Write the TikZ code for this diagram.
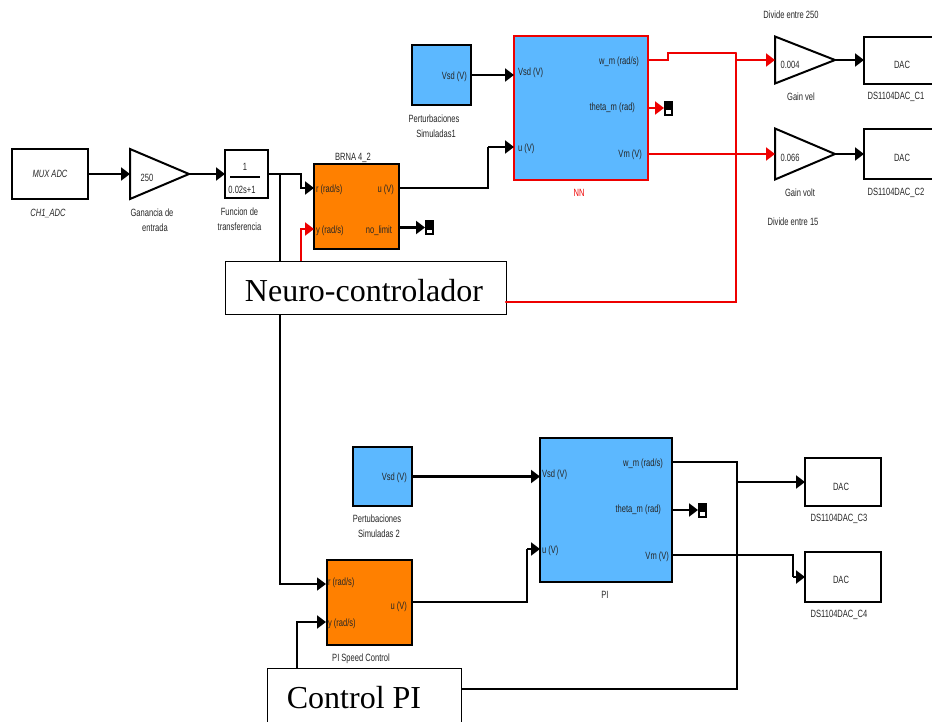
\documentclass[tikz,border=0pt]{standalone}
\usepackage{fontspec}
\setmainfont{Liberation Serif}
\newfontfamily\simfont[FakeStretch=0.72]{Liberation Sans}
\usetikzlibrary{shapes.geometric,positioning,arrows.meta}
\definecolor{simblue}{HTML}{5CB8FF}
\definecolor{simorange}{HTML}{FF8000}
\definecolor{simred}{HTML}{EE0000}

\begin{document}
\begin{tikzpicture}
        [x=1pt, y=-1pt,
        block/.style={draw, line width=2pt, inner sep=0pt, outer sep=0pt, font=\simfont\fontsize{10.5}{15}\selectfont, text=black!85},
        amp/.style={draw, line width=2pt, isosceles triangle, isosceles triangle stretches, inner sep=0pt, outer sep=0pt},
        tag/.style={inner sep=0pt, outer sep=0pt, align=center, font=\simfont\fontsize{10.5}{15}\selectfont, text=black!85},
        wide/.style={draw, line width=0.8pt, fill=white, inner sep=0pt, outer sep=0pt, font=\fontsize{32}{36}\selectfont},
        probe/.style={draw, fill=black, line width=1pt, minimum width=8pt, minimum height=14pt, inner sep=0pt, outer sep=0pt},
        wire/.style={line width=2.2pt, -{Triangle[length=9pt,width=13pt]}},
        lead/.style={line width=2.2pt}]

        \clip (0,0) rectangle (932,721);

        % top row
        \node [block, minimum width=76pt, minimum height=50pt] (mux) at (50,174) {\itshape MUX ADC};
        \node [amp, minimum height=59pt, minimum width=50pt]   (gain) [right=42pt of mux] {};
        \node [block, minimum width=43pt, minimum height=48pt] (tf) [right=36pt of gain] {};
        \node [block, fill=simorange, minimum size=85pt]       (brna) [right=46pt of tf, yshift=-32.5pt] {};
        \node [block, fill=simblue, minimum width=59pt, minimum height=60pt] (vsda) at (441.5,75) {};
        \node [block, draw=simred, fill=simblue, minimum width=134pt, minimum height=144pt] (nn) at (581,108) {};
        \node [amp, minimum height=60pt, minimum width=47pt] (gvel) [right=127pt of nn, yshift=48pt] {};
        \node [amp, minimum height=60pt, minimum width=51pt] (gvolt) [right=127pt of nn, yshift=-46pt] {};
        \node [block, minimum width=76pt, minimum height=47pt] (daca) [right=29pt of gvel] {};
        \node [block, minimum width=76pt, minimum height=50pt] (dacb) [right=29pt of gvolt] {};
        \node [wide, minimum width=281pt, minimum height=53pt] (neuro) at (365.5,287.5) {\rule{0pt}{28pt}Neuro-controlador\rule{3pt}{0pt}};

        % bottom row
        \node [block, fill=simblue, minimum width=59pt, minimum height=59pt] (vsdb) at (382.5,476.5) {};
        \node [block, fill=simblue, minimum width=132pt, minimum height=144pt] (pi) [right=128pt of vsdb, yshift=-33.5pt] {};
        \node [block, fill=simorange, minimum size=85pt] (pisc) [below=54pt of vsdb, xshift=-13.5pt] {};
        \node [block, minimum width=76pt, minimum height=48pt] (dacc) at (843,482) {};
        \node [block, minimum width=76pt, minimum height=50pt] (dacd) [below=46pt of dacc] {};
        \node [wide, minimum width=194pt, minimum height=60pt] (ctrl) at (364,698) {Control PI\rule{20pt}{0pt}};

        % probes
        \node [probe] (proba) at (429,227.5) {};
        \node [probe] (probb) at (668,108) {};
        \node [probe] (probc) at (702,510) {};
        \foreach \p in {proba,probb,probc}
            \fill[white] ([xshift=1.5pt,yshift=1.5pt]\p.south west) rectangle ([xshift=-1.5pt,yshift=5pt]\p.south east);

        % text inside the blocks
        \node [tag] (gaintxt) at (147,178) {250};
        \node [tag] (tfnum) at (245,167) {1};
        \node [tag] (tfden) at (242,190) {0.02s+1};
        \node [tag] (gveltxt) at (790,65) {0.004};
        \node [tag] (gvolttxt) at (790,158) {0.066};
        \node [tag] (dacatxt) at (902,65) {DAC};
        \node [tag] (dacbtxt) at (902,158) {DAC};
        \node [tag] (dacctxt) at (841,487) {DAC};
        \node [tag] (dacdtxt) at (841,580) {DAC};
        \node [tag, anchor=east] (vsdatxt) at (467,77) {Vsd (V)};
        \node [tag, anchor=east] (vsdbtxt) at (407,478) {Vsd (V)};

        \node [tag, anchor=west] (brnar) at (316,190) {r (rad/s)};
        \node [tag, anchor=west] (brnay) at (316,231) {y (rad/s)};
        \node [tag, anchor=east] (brnau) at (394,190) {u (V)};
        \node [tag, anchor=east] (brnal) at (392,231) {no\_limit};

        \node [tag, anchor=west] (nnv) at (518,73) {Vsd (V)};
        \node [tag, anchor=west] (nnu) at (518,149) {u (V)};
        \node [tag, anchor=east] (nnw) at (639,62) {w\_m (rad/s)};
        \node [tag, anchor=east] (nnt) at (635,108) {theta\_m (rad)};
        \node [tag, anchor=east] (nnm) at (642,155) {Vm (V)};

        \node [tag, anchor=west] (piv) at (542,475) {Vsd (V)};
        \node [tag, anchor=west] (piu) at (542,551) {u (V)};
        \node [tag, anchor=east] (piw) at (663,464) {w\_m (rad/s)};
        \node [tag, anchor=east] (pit) at (661,510) {theta\_m (rad)};
        \node [tag, anchor=east] (pim) at (669,557) {Vm (V)};

        \node [tag, anchor=west] (pir) at (328,583) {r (rad/s)};
        \node [tag, anchor=west] (piy) at (328,624) {y (rad/s)};
        \node [tag, anchor=east] (piuo) at (407,607) {u (V)};

        % captions
        \node [tag] (muxcap) at (48,213) {\itshape CH1\_ADC};
        \node [tag] (gaincap) at (152,220.5) {Ganancia de\\\hspace{6pt}entrada};
        \node [tag] (tfcap) at (239.5,219) {Funcion de\\transferencia};
        \node [tag] (brnacap) at (353,158) {BRNA 4\_2};
        \node [tag] (vsdacap) at (434,126.5) {Perturbaciones\\\hspace{4pt}Simuladas1};
        \node [tag, text=simred] (nncap) at (579,193) {NN};
        \node [tag] (divacap) at (791,15) {Divide entre 250};
        \node [tag] (gvelcap) at (801,97) {Gain vel};
        \node [tag] (gvoltcap) at (800,193) {Gain volt};
        \node [tag] (divbcap) at (793,222) {Divide entre 15};
        \node [tag] (dacacap) at (896,97) {DS1104DAC\_C1};
        \node [tag] (dacbcap) at (896,193) {DS1104DAC\_C2};
        \node [tag] (vsdbcap) at (377,526.5) {Pertubaciones\\\hspace{4pt}Simuladas 2};
        \node [tag] (picap) at (605,595) {PI};
        \node [tag] (pisccap) at (361,659) {PI Speed Control};
        \node [tag] (dacccap) at (839,519) {DS1104DAC\_C3};
        \node [tag] (dacdcap) at (839,615) {DS1104DAC\_C4};

        % junctions and bends
        \coordinate (split) at (280,174);
        \coordinate (tfbend) at (301,174);
        \coordinate (brnain) at (314,188);
        \coordinate (redkink) at (301,229);
        \coordinate (brnafb) at (314,229);
        \coordinate (brnaout) at (399,188);
        \coordinate (nnbend) at (488,147);
        \coordinate (nnin) at (514,147);
        \coordinate (nnwout) at (648,60);
        \coordinate (nnwup) at (668,53);
        \coordinate (redtop) at (736,53);
        \coordinate (redtap) at (736,60);
        \coordinate (redbot) at (736,154);
        \coordinate (neuroout) at (506,302);
        \coordinate (pirin) at (326,584);
        \coordinate (ctrlup) at (297,622);
        \coordinate (piyin) at (326,622);
        \coordinate (pisout) at (412,602);
        \coordinate (pibend) at (527,549);
        \coordinate (piin) at (540,549);
        \coordinate (piwout) at (672,462);
        \coordinate (pimout) at (672,555);
        \coordinate (blktap) at (737,482);
        \coordinate (blkend) at (737,689);
        \coordinate (ctrlout) at (461,689);
        \coordinate (dacdbend) at (793,577);

        \draw[lead] ([xshift=5pt,yshift=-3pt]tf.west) -- ([xshift=-8pt,yshift=-3pt]tf.east);

        % black wires
        \draw[wire] (mux) -- (gain.west);
        \draw[wire] (gain.apex) -- (tf);
        \draw[wire] (tf.east) -- (tfbend) |- (brnain);
        \draw[line width=1.5pt] (split) -- (split |- neuro.north);
        \draw[wire, line width=1.5pt] (split |- neuro.south) |- (pirin);
        \draw[wire] (brna.east |- proba) -- (proba);
        \draw[lead] (brnaout) -| (nnbend);
        \draw[wire] (nnbend) -- (nnin);
        \draw[wire] (vsda) -- (nn.west |- vsda);
        \draw[wire] (gvel.apex) -- (daca);
        \draw[wire] (gvolt.apex) -- (dacb);

        % red wires
        \draw[wire, draw=simred] (redkink |- neuro.north) -- (redkink) -- (brnafb);
        \draw[lead, draw=simred] (nnwout) -| (nnwup) -- (redtop);
        \draw[lead, draw=simred, line cap=round] (redtop) |- (neuroout);
        \draw[wire, draw=simred] (redtap) -- (gvel.west);
        \draw[wire, draw=simred] (nn.east) -- (probb);
        \draw[wire, draw=simred] (nn.east |- redbot) -- (gvolt.west);

        % black wires of the lower loop
        \draw[wire] (vsdb) -- (pi.west |- vsdb);
        \draw[wire] (pi.east) -- (probc);
        \draw[lead] (pisout) -| (pibend);
        \draw[wire] (pibend) -- (piin);
        \draw[lead] (piwout) -| (blkend) -- (ctrlout);
        \draw[wire, line cap=round] (blktap) -- (dacc);
        \draw[lead] (pimout) -| (dacdbend);
        \draw[wire] (dacdbend) -- (dacd);
        \draw[wire] (ctrlup |- ctrl.north) -- (ctrlup) -- (piyin);
\end{tikzpicture}
\end{document}
